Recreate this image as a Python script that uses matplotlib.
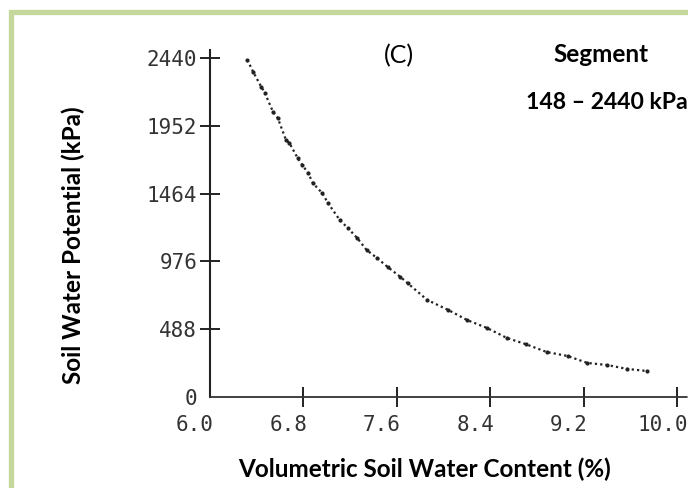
import numpy as np
import matplotlib
matplotlib.use("Agg")
import matplotlib.pyplot as plt
import matplotlib.transforms as mtransforms
from matplotlib.patches import Rectangle

# valores (contenido de agua %, potencial kPa)
theta = [6.32, 6.37, 6.44, 6.47, 6.54, 6.58, 6.65, 6.68, 6.75, 6.79,
         6.84, 6.88, 6.96, 7.01, 7.11, 7.18, 7.26, 7.34, 7.43, 7.52,
         7.63, 7.69, 7.86, 8.04, 8.20, 8.37, 8.54, 8.70, 8.88, 9.06,
         9.23, 9.40, 9.57, 9.74]
potencial = [2426, 2339, 2231, 2188, 2051, 2008, 1850, 1828, 1720, 1670,
             1612, 1540, 1468, 1396, 1274, 1216, 1144, 1058, 1000, 936,
             864, 820, 698, 626, 554, 497, 425, 381, 324, 295,
             245, 230, 202, 187]

xticks = [6.0, 6.8, 7.6, 8.4, 9.2, 10.0]
xticklabels = ["6.0", "6.8", "7.6", "8.4", "9.2", "10.0"]
yticks = [0, 488, 976, 1464, 1952, 2440]
yticklabels = ["0", "488", "976", "1464", "1952", "2440"]

W, H = 688, 488
fig = plt.figure(figsize=(W / 100, H / 100), dpi=100)
fig.patch.set_facecolor('white')

# marco verde (solo se ve arriba y a la izquierda)
fig.patches.append(Rectangle((10.5 / W, 0 - 0.2), 1.2, (H - 11.5) / H + 0.2,
                             transform=fig.transFigure, fill=False,
                             edgecolor='#c4d89c', linewidth=3.8))

ax = fig.add_axes([210 / W, (H - 397) / H, (W - 210) / W, (397 - 50) / H])
ax.set_xlim(6.0, 10.09)
ax.set_ylim(0, 2498)

ax.plot(theta, potencial, color='#222222', linestyle=(0, (1, 1.4)), linewidth=1.6)
ax.plot(theta, potencial, 'o', color='#222222', markersize=3, markeredgewidth=0)

for s in ['top', 'right']:
    ax.spines[s].set_visible(False)
ax.spines['left'].set_linewidth(1.5)
ax.spines['left'].set_color('#222222')
ax.spines['bottom'].set_linewidth(1.3)
ax.spines['bottom'].set_color('#333333')
ax.spines['bottom'].set_linestyle((0, (4, 1)))

mono = 'DejaVu Sans Mono'
ax.set_xticks(xticks)
ax.set_xticklabels(xticklabels, family=mono, fontsize=15, color='#333333')
ax.set_yticks(yticks)
ax.set_yticklabels(yticklabels, family=mono, fontsize=15, color='#333333')
ax.tick_params(axis='both', direction='inout', length=14.4, width=1.4, color='#222222')
ax.tick_params(axis='x', pad=6)
ax.tick_params(axis='y', pad=2)
ax.xaxis.get_major_ticks()[0].tick1line.set_visible(False)
ax.yaxis.get_major_ticks()[0].tick1line.set_visible(False)

offset = mtransforms.ScaledTranslation(-15 / 100, 0, fig.dpi_scale_trans)
for lab in ax.xaxis.get_majorticklabels():
    lab.set_transform(lab.get_transform() + offset)

calibri = 'Lato'
fig.text(73 / W, 1 - 245 / H, 'Soil Water Potential (kPa)', rotation=90,
         ha='center', va='center', fontsize=17.5, fontweight='bold', family=calibri)
fig.text(425 / W, 1 - 469 / H, 'Volumetric Soil Water Content (%)',
         ha='center', va='center', fontsize=17.5, fontweight='bold', family=calibri)
fig.text(399 / W, 1 - 56 / H, '(C)', ha='center', va='center', fontsize=18, family=calibri)
fig.text(601 / W, 1 - 55 / H, 'Segment', ha='center', va='center', fontsize=17.5,
         fontweight='bold', family=calibri)
fig.text(607 / W, 1 - 102 / H, '148 \u2013 2440 kPa', ha='center', va='center',
         fontsize=16.6, fontweight='bold', family=calibri)

fig.savefig('out.png', dpi=100)
